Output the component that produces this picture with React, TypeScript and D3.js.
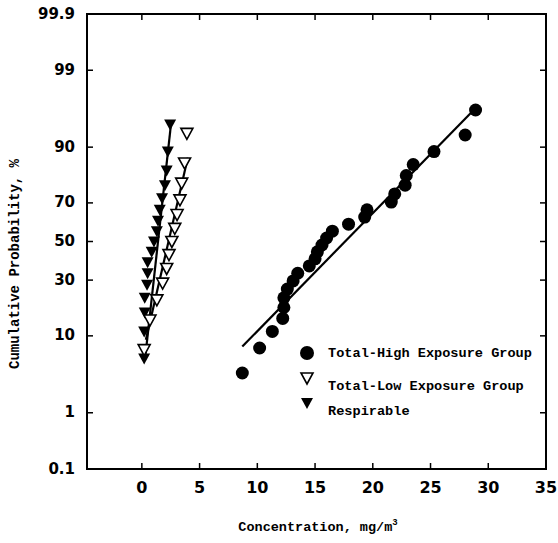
import React from "react";
import * as d3 from "d3";

// Total-High Exposure Group (filled circles)
const highConc = [8.7, 10.2, 11.3, 12.2, 12.3, 12.3, 12.6, 13.1, 13.5, 14.5, 15.0, 15.2, 15.6, 16.0, 16.5, 17.9, 19.3, 19.5, 21.6, 21.9, 22.8, 22.9, 23.5, 25.3, 28.0, 28.9];
const highPct = [3.7, 7.4, 11.1, 14.8, 18.5, 22.2, 25.9, 29.6, 33.3, 37.0, 40.7, 44.4, 48.1, 51.9, 55.6, 59.3, 63.0, 66.7, 70.4, 74.1, 77.8, 81.5, 85.2, 88.9, 92.6, 96.3];

// Total-Low Exposure Group (open triangles)
const lowConc = [0.2, 0.7, 1.3, 1.8, 2.15, 2.35, 2.6, 2.85, 3.05, 3.3, 3.45, 3.7, 3.9];
const lowPct = [7.1, 14.3, 21.4, 28.6, 35.7, 42.9, 50.0, 57.1, 64.3, 71.4, 78.6, 85.7, 92.9];

// Respirable (filled triangles)
const respConc = [0.2, 0.2, 0.25, 0.25, 0.45, 0.5, 0.5, 0.85, 1.05, 1.3, 1.4, 1.55, 1.75, 2.0, 2.15, 2.25, 2.45];
const respPct = [5.6, 11.1, 16.7, 22.2, 27.8, 33.3, 38.9, 44.4, 50.0, 55.6, 61.1, 66.7, 72.2, 77.8, 83.3, 88.9, 94.4];

// fitted lognormal-ish lines: mean, sd, x range
const fitNames = ["high", "low", "resp"];
const fitMu = [17.6, 2.31, 1.4];
const fitSigma = [6.24, 1.47, 0.705];
const fitFrom = [8.7, 0.35, 0.26];
const fitTo = [28.7, 3.98, 2.5];

const xTicks = [0, 5, 10, 15, 20, 25, 30, 35];
const yTicks = [0.1, 1, 10, 30, 50, 70, 90, 99, 99.9];

const legendLabels = ["Total-High Exposure Group", "Total-Low Exposure Group", "Respirable"];

// inverse normal cdf (Acklam)
function probit(p: number): number {
  const a = [-39.69683028665376, 220.9460984245205, -275.9285104469687, 138.357751867269, -30.66479806614716, 2.506628277459239];
  const b = [-54.47609879822406, 161.5858368580409, -155.6989798598866, 66.80131188771972, -13.28068155288572];
  const c = [-0.007784894002430293, -0.3223964580411365, -2.400758277161838, -2.549732539343734, 4.374664141464968, 2.938163982699776];
  const d = [0.007784695709866365, 0.3224671290700398, 2.445134137142996, 3.754408661907416];
  const plow = 0.02425;
  if (p < plow) {
    const q = Math.sqrt(-2 * Math.log(p));
    return (((((c[0] * q + c[1]) * q + c[2]) * q + c[3]) * q + c[4]) * q + c[5]) /
      ((((d[0] * q + d[1]) * q + d[2]) * q + d[3]) * q + 1);
  }
  if (p > 1 - plow) {
    const q = Math.sqrt(-2 * Math.log(1 - p));
    return -(((((c[0] * q + c[1]) * q + c[2]) * q + c[3]) * q + c[4]) * q + c[5]) /
      ((((d[0] * q + d[1]) * q + d[2]) * q + d[3]) * q + 1);
  }
  const q = p - 0.5;
  const r = q * q;
  return (((((a[0] * r + a[1]) * r + a[2]) * r + a[3]) * r + a[4]) * r + a[5]) * q /
    (((((b[0] * r + b[1]) * r + b[2]) * r + b[3]) * r + b[4]) * r + 1);
}

const W = 558;
const H = 543;
const left = 87, right = 546, top = 14, bottom = 469;

const tickFont = "'DejaVu Sans', sans-serif";
const monoFont = "'Liberation Mono', 'DejaVu Sans Mono', monospace";

const triDown = "M-6,-5L6,-5L0,6Z";

export default function App() {
  const x = d3.scaleLinear().domain([-4.75, 35]).range([left, right]);
  const z = d3.scaleLinear().domain([probit(0.001), probit(0.999)]).range([bottom, top]);
  const y = (pct: number) => z(probit(pct / 100));

  const fitLine = (i: number) => {
    const pts: [number, number][] = [fitFrom[i], fitTo[i]].map((v) => [x(v), z((v - fitMu[i]) / fitSigma[i])]);
    return d3.line()(pts) as string;
  };

  const tickLen = 6;

  return (
    <svg width={W} height={H} style={{ position: "absolute", left: 0, top: 0, background: "#fff" }}>
      {/* fit lines */}
      {fitNames.map((n, i) => (
        <path key={n} d={fitLine(i)} fill="none" stroke="#000" strokeWidth={2.2} />
      ))}

      {/* respirable */}
      {respConc.map((c, i) => (
        <path key={"r" + i} d={triDown} transform={`translate(${x(c)},${y(respPct[i])})`} fill="#000" />
      ))}
      {/* total low */}
      {lowConc.map((c, i) => (
        <path key={"l" + i} d={triDown} transform={`translate(${x(c)},${y(lowPct[i])})`} fill="#fff" stroke="#000" strokeWidth={1.6} />
      ))}
      {/* total high */}
      {highConc.map((c, i) => (
        <circle key={"h" + i} cx={x(c)} cy={y(highPct[i])} r={6.5} fill="#000" />
      ))}

      {/* frame */}
      <rect x={left} y={top} width={right - left} height={bottom - top} fill="none" stroke="#000" strokeWidth={2} />

      {/* x ticks */}
      {xTicks.map((t) => (
        <g key={"xt" + t}>
          <line x1={x(t)} x2={x(t)} y1={bottom} y2={bottom - tickLen} stroke="#000" strokeWidth={1.5} />
          <line x1={x(t)} x2={x(t)} y1={top} y2={top + tickLen} stroke="#000" strokeWidth={1.5} />
          <text x={x(t)} y={488} textAnchor="middle" dominantBaseline="middle" fontFamily={tickFont} fontWeight="bold" fontSize={16}>
            {t}
          </text>
        </g>
      ))}

      {/* y ticks */}
      {yTicks.map((t) => (
        <g key={"yt" + t}>
          <line x1={left} x2={left + tickLen} y1={y(t)} y2={y(t)} stroke="#000" strokeWidth={1.5} />
          <line x1={right} x2={right - tickLen} y1={y(t)} y2={y(t)} stroke="#000" strokeWidth={1.5} />
          <text x={75} y={y(t)} textAnchor="end" dominantBaseline="middle" fontFamily={tickFont} fontWeight="bold" fontSize={15}>
            {t}
          </text>
        </g>
      ))}

      {/* axis titles */}
      <text x={318} y={531} textAnchor="middle" fontFamily={monoFont} fontWeight="bold" fontSize={13.5}>
        Concentration, mg/m<tspan dy={-6} fontSize={9}>3</tspan>
      </text>
      <text transform={`translate(19,264) rotate(-90)`} textAnchor="middle" fontFamily={monoFont} fontWeight="bold" fontSize={14}>
        Cumulative Probability, %
      </text>

      {/* legend */}
      <g fontFamily={monoFont} fontWeight="bold" fontSize={13.6}>
        <circle cx={307} cy={353} r={7} fill="#000" />
        <text x={328} y={353} dominantBaseline="middle">{legendLabels[0]}</text>
        <path d={triDown} transform="translate(307,378)" fill="#fff" stroke="#000" strokeWidth={1.6} />
        <text x={328} y={386} dominantBaseline="middle">{legendLabels[1]}</text>
        <path d={triDown} transform="translate(307,403)" fill="#000" />
        <text x={328} y={411} dominantBaseline="middle">{legendLabels[2]}</text>
      </g>
    </svg>
  );
}
